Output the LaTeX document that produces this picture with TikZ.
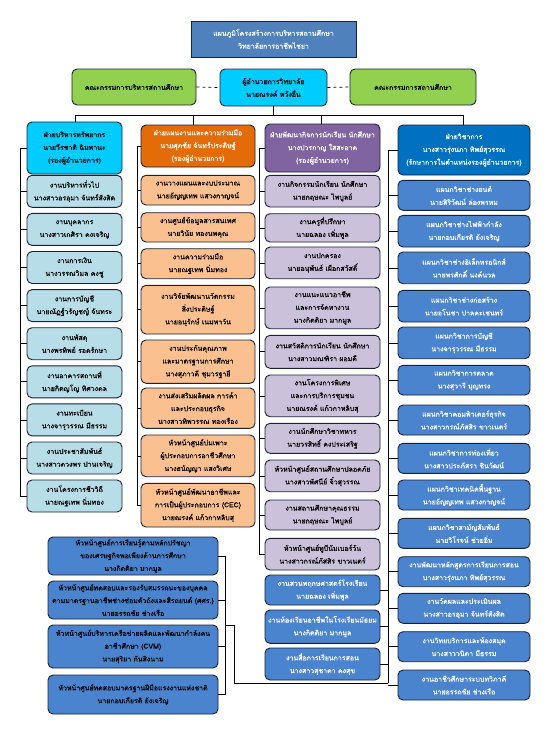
\documentclass[tikz,border=0pt]{standalone}
\usepackage{fontspec}
\newfontfamily\thai[Script=Thai,FakeBold=0.6]{Loma}
\definecolor{ttl}{HTML}{4F81BD}
\definecolor{grn}{HTML}{92D050}
\definecolor{cyn}{HTML}{00CCFF}
\definecolor{c1b}{HTML}{B7DEE8}
\definecolor{c2h}{HTML}{E36C09}
\definecolor{c2b}{HTML}{FAC090}
\definecolor{c3h}{HTML}{8064A2}
\definecolor{c3b}{HTML}{CCC1DA}
\definecolor{c4h}{HTML}{0070C0}
\definecolor{c4b}{HTML}{4A84CF}
\definecolor{bdr}{HTML}{1A2235}
\tikzset{
  bx/.style={draw=bdr, line width=0.9pt, rounded corners=5pt, align=center, inner sep=0pt,
    font=\thai\fontsize{7}{12.8}\selectfont},
  ln/.style={draw=black, line width=0.7pt},
}
\newcommand{\bxn}[7]{% name, x1, x2, y1, y2, style, text
  \node[bx,#6,minimum width={#3-#2}, minimum height={#5-#4}] (#1) at ({(#2+#3)/2},{(#4+#5)/2}) {#7};}
\begin{document}
\begin{tikzpicture}[x=1pt,y=-1pt]
\useasboundingbox[fill=white] (0,0) rectangle (548,731);
% title and top row
\bxn{title}{191}{356}{21}{57}{fill=ttl,text=white,rounded corners=0pt}{แผนภูมิโครงสร้างการบริหารสถานศึกษา\\วิทยาลัยการอาชีพไชยา}
\bxn{gL}{72}{196}{69}{105}{fill=grn}{คณะกรรมการบริหารสถานศึกษา}
\bxn{dir}{220}{327}{69}{106}{fill=cyn}{ผู้อำนวยการวิทยาลัย\\นายณรงค์ หวังอื่น}
\bxn{gR}{350}{476}{69}{105}{fill=grn}{คณะกรรมการสถานศึกษา}
\draw[ln,dashed] (gL.east) -- (dir.west);
\draw[ln,dashed] (dir.east) -- (gR.west);
% column 1
\bxn{h1}{27}{122}{122}{174}{fill=cyn}{ฝ่ายบริหารทรัพยากร\\นายวีรชาติ ฉิมพานะ\\(รองผู้อำนวยการ)}
\bxn{a1}{27}{122}{175.3}{207.3}{fill=c1b}{งานบริหารทั่วไป\\นางสาวอรอุมา จันทร์สังสิต}
\bxn{a2}{27}{122}{213.4}{245.4}{fill=c1b}{งานบุคลากร\\นางสาวเกศิรา คงเจริญ}
\bxn{a3}{27}{122}{251.5}{283.5}{fill=c1b}{งานการเงิน\\นางวรรณวิมล คงชู}
\bxn{a4}{27}{122}{289.6}{321.6}{fill=c1b}{งานการบัญชี\\นายณัฏฐ์วรัญชญ์ จันทระ}
\bxn{a5}{27}{122}{327.7}{359.7}{fill=c1b}{งานพัสดุ\\นางพรทิพย์ รอดรักษา}
\bxn{a6}{27}{122}{365.8}{397.8}{fill=c1b}{งานอาคารสถานที่\\นายกิตญโญ ทิศวงดล}
\bxn{a7}{27}{122}{403.9}{435.9}{fill=c1b}{งานทะเบียน\\นางจารุวรรณ มีธรรม}
\bxn{a8}{27}{122}{442}{474}{fill=c1b}{งานประชาสัมพันธ์\\นางสาวดวงพร ปานเจริญ}
\bxn{a9}{27}{122}{480}{512}{fill=c1b}{งานโครงการชีววิถี\\นายณฐเทพ นิ่มทอง}
% column 2
\bxn{h2}{141}{255}{125}{167}{fill=c2h,text=white}{ฝ่ายแผนงานและความร่วมมือ\\นายศุภชัย จันทร์ประดิษฐ์\\(รองผู้อำนวยการ)}
\bxn{b1}{141}{255}{175.3}{205}{fill=c2b}{งานวางแผนและงบประมาณ\\นายอัญญเทพ แสวงกาญจน์}
\bxn{b2}{141}{255}{212.7}{242}{fill=c2b}{งานศูนย์ข้อมูลสารสนเทศ\\นายวินัย ทองนพคุณ}
\bxn{b3}{141}{255}{248.7}{278.7}{fill=c2b}{งานความร่วมมือ\\นายณฐเทพ นิ่มทอง}
\bxn{b4}{141}{255}{285.3}{334}{fill=c2b}{งานวิจัยพัฒนานวัตกรรม\\สิ่งประดิษฐ์\\นายอนุรักษ์ เนมหาวัน}
\bxn{b5}{141}{255}{340}{383.3}{fill=c2b}{งานประกันคุณภาพ\\และมาตรฐานการศึกษา\\นางสุภาวดี ชุมวรฐายี}
\bxn{b6}{141}{255}{388}{428.3}{fill=c2b}{งานส่งเสริมผลิตผล การค้า\\และประกอบธุรกิจ\\นางสาวทิพวรรณ ทองเรือง}
\bxn{b7}{141}{255}{435}{476.7}{fill=c2b}{หัวหน้าศูนย์บ่มเพาะ\\ผู้ประกอบการอาชีวศึกษา\\นางธนัญญา แสงวิเศษ}
\bxn{b8}{141}{255}{483.3}{527}{fill=c2b}{หัวหน้าศูนย์พัฒนาอาชีพและ\\การเป็นผู้ประกอบการ (CEC)\\นายณรงค์ แก้วกาหลิบสุ}
% column 3
\bxn{h3}{265}{380}{124}{172}{fill=c3h,text=white}{ฝ่ายพัฒนากิจการนักเรียน นักศึกษา\\นางปวรกาญ ใสสะอาด\\(รองผู้อำนวยการ)}
\bxn{c1}{265}{380}{175.3}{207}{fill=c3b}{งานกิจกรรมนักเรียน นักศึกษา\\นายกฤษณะ ไพบูลย์}
\bxn{c2}{265}{380}{213.7}{242}{fill=c3b}{งานครูที่ปรึกษา\\นายฉลอง เพิ่มพูล}
\bxn{c3}{265}{380}{247}{278.7}{fill=c3b}{งานปกครอง\\นายอนุพันธ์ เผือกสวัสดิ์}
\bxn{c4}{265}{380}{287}{328.7}{fill=c3b}{งานแนะแนวอาชีพ\\และการจัดหางาน\\นางกิตติยา มากมูล}
\bxn{c5}{265}{380}{335.3}{368.3}{fill=c3b}{งานสวัสดิการนักเรียน นักศึกษา\\นางสาวมณฑิรา ผอมดี}
\bxn{c6}{265}{380}{375}{416.7}{fill=c3b}{งานโครงการพิเศษ\\และการบริการชุมชน\\นายณรงค์ แก้วกาหลิบสุ}
\bxn{c7}{265}{380}{423.3}{453.3}{fill=c3b}{งานนักศึกษาวิชาทหาร\\นายวรสิทธิ์ คงประเสริฐ}
\bxn{c8}{265}{380}{460}{491.7}{fill=c3b}{หัวหน้าศูนย์สถานศึกษาปลอดภัย\\นางสาวพัศนีย์ จิ๋วสุวรรณ}
\bxn{c9}{265}{380}{500}{530}{fill=c3b}{งานสถานศึกษาคุณธรรม\\นายกฤษณะ ไพบูลย์}
\bxn{c10}{265}{380}{538.3}{570}{fill=c3b}{หัวหน้าศูนย์ทูบีนัมเบอร์วัน\\นางสาวกรณ์ภัสสิร ขาวเนตร์}
\bxn{c11}{265}{380}{575}{605}{fill=c4b,text=white}{งานสวนพฤกษศาสตร์โรงเรียน\\นายฉลอง เพิ่มพูล}
\bxn{c12}{265}{380}{610}{643.3}{fill=c4b,text=white}{งานห้องเรียนอาชีพในโรงเรียนมัธยม\\นางกิตติยา มากมูล}
\bxn{c13}{265}{380}{648}{680}{fill=c4b,text=white}{งานสื่อการเรียนการสอน\\นางสาวสุชาดา คงสุข}
% column 4
\bxn{h4}{398}{530}{125}{175}{fill=c4h,text=white}{ฝ่ายวิชาการ\\นางสาวรุ่งนภา ทิพย์สุวรรณ\\(รักษาการในตำแหน่งรองผู้อำนวยการ)}
\bxn{d1}{398}{530}{180.3}{210.3}{fill=c4b,text=white}{แผนกวิชาช่างยนต์\\นายสิริวัฒน์ ล่องพรหม}
\bxn{d2}{398}{530}{215.3}{247}{fill=c4b,text=white}{แผนกวิชาช่างไฟฟ้ากำลัง\\นายกอบเกียรติ ยังเจริญ}
\bxn{d3}{398}{530}{252}{283.7}{fill=c4b,text=white}{แผนกวิชาช่างอิเล็กทรอนิกส์\\นายพรศักดิ์ นงค์นวล}
\bxn{d4}{398}{530}{290.3}{322}{fill=c4b,text=white}{แผนกวิชาช่างก่อสร้าง\\นายอโนชา ปาลคะเชนทร์}
\bxn{d5}{398}{530}{327}{358.7}{fill=c4b,text=white}{แผนกวิชาการบัญชี\\นางจารุวรรณ มีธรรม}
\bxn{d6}{398}{530}{365.3}{395}{fill=c4b,text=white}{แผนกวิชาการตลาด\\นางสุวารี บุญทรง}
\bxn{d7}{398}{530}{405}{435}{fill=c4b,text=white}{แผนกวิชาคอมพิวเตอร์ธุรกิจ\\นางสาวกรณ์ภัสสิร ขาวเนตร์}
\bxn{d8}{398}{530}{443.3}{473.3}{fill=c4b,text=white}{แผนกวิชาการท่องเที่ยว\\นางสาวประภัสรา ชินวัฒน์}
\bxn{d9}{398}{530}{480}{510}{fill=c4b,text=white}{แผนกวิชาเทคนิคพื้นฐาน\\นายอัญญเทพ แสวงกาญจน์}
\bxn{d10}{398}{530}{518.3}{548.3}{fill=c4b,text=white}{แผนกวิชาสามัญสัมพันธ์\\นายวิโรจน์ ช่วยอิ่ม}
\bxn{d11}{398}{530}{556.7}{586.7}{fill=c4b,text=white}{งานพัฒนาหลักสูตรการเรียนการสอน\\นางสาวรุ่งนภา ทิพย์สุวรรณ}
\bxn{d12}{398}{530}{593.3}{623.3}{fill=c4b,text=white}{งานวัดผลและประเมินผล\\นางสาวอรอุมา จันทร์สังสิต}
\bxn{d13}{398}{530}{631.7}{661.7}{fill=c4b,text=white}{งานวิทยบริการและห้องสมุด\\นางสาววนิดา มีธรรม}
\bxn{d14}{398}{530}{670}{700}{fill=c4b,text=white}{งานอาชีวศึกษาระบบทวิภาคี\\นายอรรถชัย ช่างเรือ}
% bottom-left centres
\bxn{e1}{48}{218}{537}{575}{fill=c4b}{หัวหน้าศูนย์การเรียนรู้ตามหลักปรัชญา\\ของเศรษฐกิจพอเพียงด้านการศึกษา\\นางกิตติยา มากมูล}
\bxn{e2}{48}{218}{581}{619}{fill=c4b}{หัวหน้าศูนย์ทดสอบและรองรับสมรรถนะของบุคคล\\ตามมาตรฐานอาชีพช่างซ่อมตัวถังและสีรถยนต์ (ศศร.)\\นายอรรถชัย ช่างเรือ}
\bxn{e3}{48}{218}{625}{668}{fill=c4b}{หัวหน้าศูนย์บริหารเครือข่ายผลิตและพัฒนากำลังคน\\อาชีวศึกษา (CVM)\\นายสุริยา กันสิงนาม}
\bxn{e4}{48}{218}{675}{714}{fill=c4b}{หัวหน้าศูนย์ทดสอบมาตรฐานฝีมือแรงงานแห่งชาติ\\นายกอบเกียรติ ยังเจริญ}
% top connectors
\coordinate (t0) at (273.5,115);
\draw[ln] (dir.south) -- (t0);
\draw[ln] (75,115) -- (463,115);
\draw[ln] (75,115) -- (75,122);
\draw[ln] (193,115) -- (193,125);
\draw[ln] (321,115) -- (321,124);
\draw[ln] (463,115) -- (463,125);
% column buses
\draw[ln] (20,148) -- (20,496);
\foreach \n in {h1,a1,a2,a3,a4,a5,a6,a7,a8,a9} \draw[ln] (20,0 |- \n.west) -- (\n.west);
\draw[ln] (137,146) -- (137,505);
\foreach \n in {h2,b1,b2,b3,b4,b5,b6,b7,b8} \draw[ln] (137,0 |- \n.west) -- (\n.west);
\draw[ln] (259,148) -- (259,554);
\foreach \n in {h3,c1,c2,c3,c4,c5,c6,c7,c8,c9,c10} \draw[ln] (259,0 |- \n.west) -- (\n.west);
\draw[ln] (388,150) -- (388,683);
\foreach \n in {h4,d1,d2,d3,d4,d5,d6,d7,d8,d9,d10,d11,d12,d13,d14} \draw[ln] (388,0 |- \n.west) -- (\n.west);
\foreach \n in {c11,c12,c13} \draw[ln] (\n.east) -- (388,0 |- \n.east);
% bottom-left bracket
\draw[ln] (388,683) -- (234,683) -- (234,625) -- (225,625);
\draw[ln] (225,556) -- (225,694.5);
\foreach \n in {e1,e2,e3,e4} \draw[ln] (\n.east) -- (225,0 |- \n.east);
\end{tikzpicture}
\end{document}
